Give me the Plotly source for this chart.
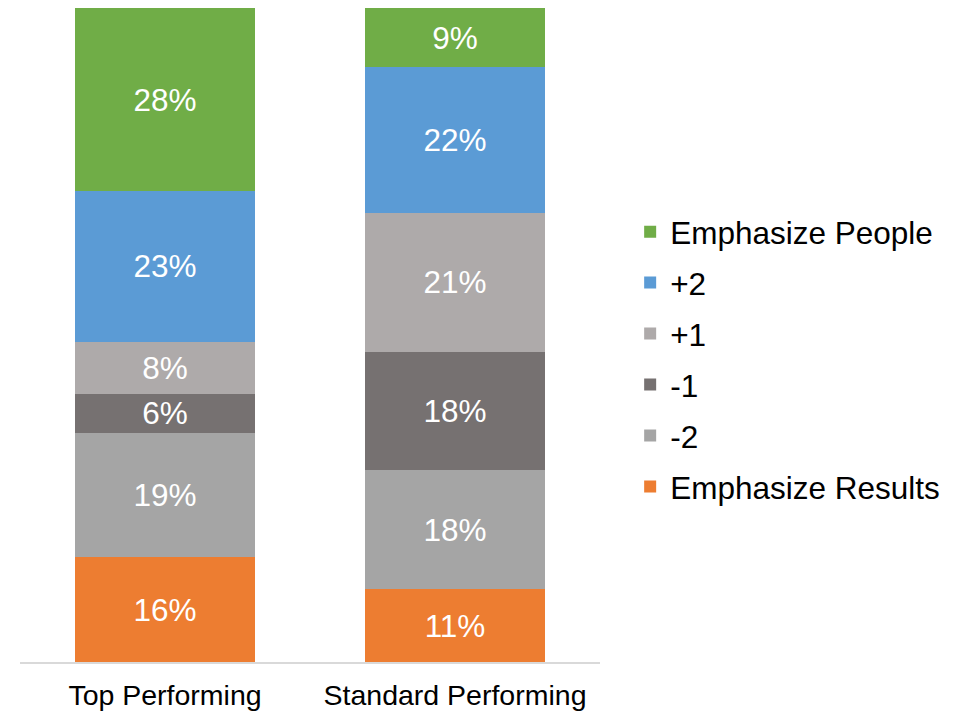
import plotly.graph_objects as go

categories = ["Top Performing", "Standard Performing"]

# Series listed bottom-to-top in the stack
series_names = ["Emphasize Results", "-2", "-1", "+1", "+2", "Emphasize People"]
series_colors = ["#ED7D31", "#A5A5A5", "#767171", "#AEAAAA", "#5B9BD5", "#70AD47"]

emphasize_results = [16, 11]
minus_two = [19, 18]
minus_one = [6, 18]
plus_one = [8, 21]
plus_two = [23, 22]
emphasize_people = [28, 9]

series_values = [emphasize_results, minus_two, minus_one, plus_one, plus_two, emphasize_people]

FONT = "Liberation Sans, Arial, sans-serif"

fig = go.Figure()
n = len(series_names)
for i, (name, color, vals) in enumerate(zip(series_names, series_colors, series_values)):
    fig.add_trace(go.Bar(
        x=categories,
        y=vals,
        name=name,
        legendgroup=name,
        legendrank=n - i,  # top of the stack is listed first
        marker=dict(color=color, line=dict(width=0)),
        text=[f"{v}%" for v in vals],
        textposition="inside",
        insidetextanchor="middle",
        constraintext="none",
        textfont=dict(family=FONT, size=31.5, color="white"),
        hoverinfo="skip",
    ))

fig.update_layout(
    barmode="stack",
    barnorm="percent",
    bargap=0.38,
    width=970,
    height=713,
    margin=dict(l=20, r=370, t=8, b=51),
    paper_bgcolor="white",
    plot_bgcolor="white",
    font=dict(family=FONT, color="black"),
    showlegend=True,
    legend=dict(
        x=1.052, xanchor="left",
        y=0.463, yanchor="middle",
        font=dict(family=FONT, size=31.5, color="black"),
        itemsizing="constant",
        traceorder="grouped",
        tracegroupgap=7,
    ),
    xaxis=dict(
        automargin=False,
        showline=True,
        linecolor="#D9D9D9",
        linewidth=2,
        ticks="outside",
        ticklen=7,
        tickcolor="rgba(0,0,0,0)",
        tickfont=dict(family=FONT, size=28.5, color="black"),
        showgrid=False,
        zeroline=False,
    ),
    yaxis=dict(
        range=[0, 100],
        showticklabels=False,
        showgrid=False,
        zeroline=False,
        showline=False,
    ),
)

fig.write_html("out.html")
